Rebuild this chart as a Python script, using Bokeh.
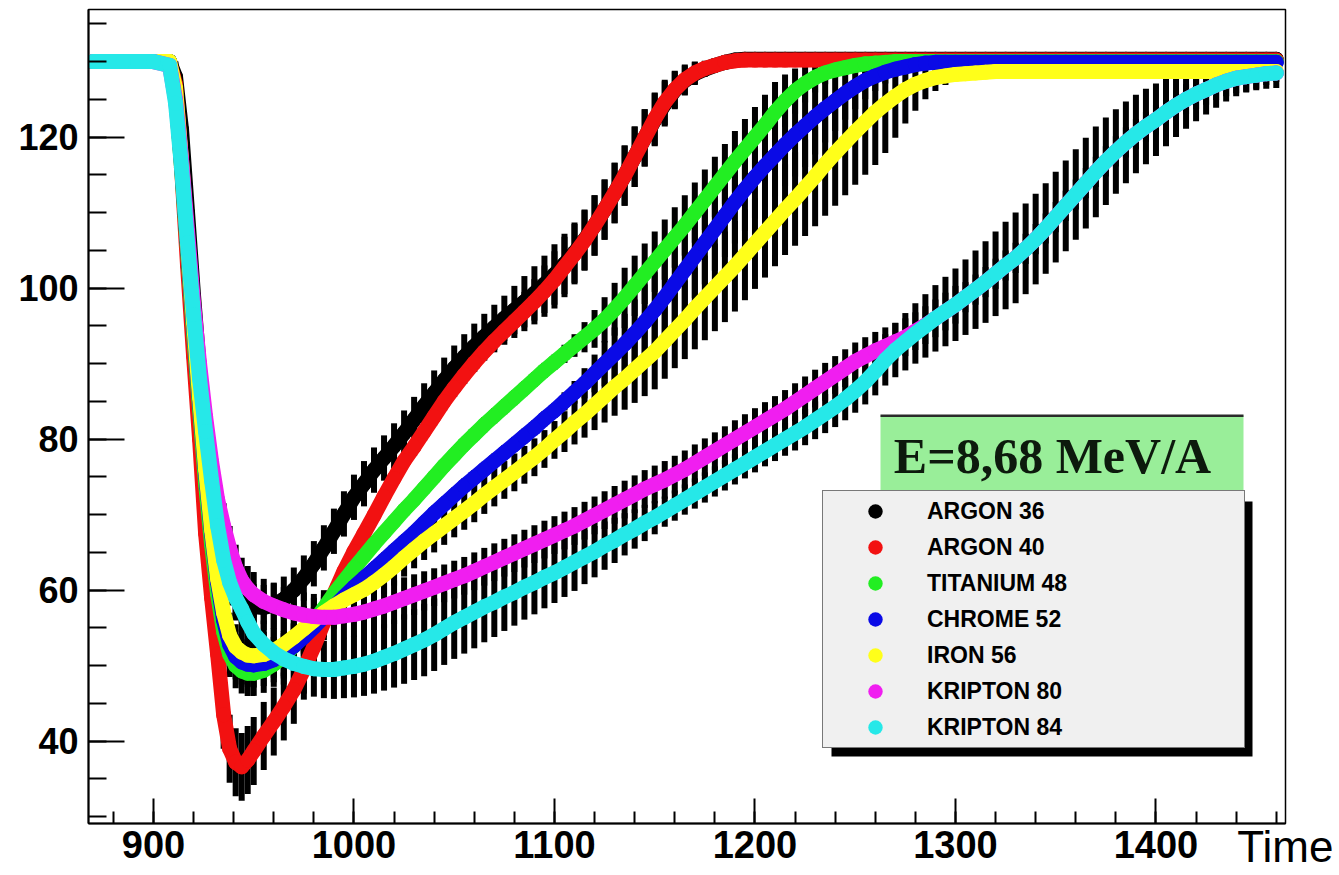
import numpy as np
from bokeh.plotting import figure
from bokeh.models import (ColumnDataSource, Range1d, FixedTicker, BoxAnnotation,
                          Label, Legend, LegendItem, LinearAxis, CustomJSTickFormatter)
from bokeh.embed import file_html
from bokeh.resources import INLINE

# ---------------- data ----------------
time = [870, 885, 900, 908, 911, 914, 917, 920, 923, 926, 929, 932, 935, 938,
        941, 944, 947, 950] + list(range(955, 1461, 5))

argon36 = [130, 130, 130, 130, 128, 121, 110, 99, 89, 80, 73, 67.5, 63.5, 61, 59.6, 58.7, 58.1, 57.8,
           57.7, 58.0, 58.8, 60.0, 61.6, 63.5, 65.6, 67.8, 70.1, 72.3,
           74.1, 75.9, 77.5, 79.1, 80.8, 82.6, 84.4, 86.1, 87.8, 89.4,
           90.9, 92.3, 93.6, 94.8, 96.0, 97.1, 98.2, 99.3, 100.5, 101.8,
           103.2, 104.7, 106.4, 108.3, 110.4, 112.6, 114.9, 117.4, 119.9, 122.3,
           124.4, 126.2, 127.5, 128.4, 129.0, 129.5, 129.9, 130.2, 130.3, 130.3,
           130.3, 130.3, 130.3, 130.3, 130.3, 130.3, 130.3, 130.3, 130.3, 130.3,
           130.3, 130.3, 130.3, 130.3, 130.3, 130.3, 130.3, 130.3, 130.3, 130.3,
           130.3, 130.3, 130.3, 130.3, 130.3, 130.3, 130.3, 130.3, 130.3, 130.3,
           130.3, 130.3, 130.3, 130.3, 130.3, 130.3, 130.3, 130.3, 130.3, 130.3,
           130.3, 130.3, 130.3, 130.3, 130.3, 130.3, 130.3, 130.3, 130.3, 130.3,
           130.3, 130.3]

argon40 = [130, 130, 130, 130, 127, 116, 103, 91, 80, 67.5, 59, 51.5, 43.5, 39, 37.2, 36.6, 37.5, 38.7,
           40.7, 42.6, 44.6, 46.8, 49.5, 52.5, 55.8, 59.5, 62.5, 65.1,
           67.5, 69.9, 72.4, 74.8, 77.1, 79.0, 81.0, 83.0, 85.0, 86.8,
           88.5, 90.1, 91.6, 93.0, 94.3, 95.6, 96.9, 98.2, 99.6, 101.1,
           102.8, 104.5, 106.3, 108.3, 110.4, 112.6, 114.9, 117.4, 119.9, 122.4,
           124.6, 126.3, 127.6, 128.5, 129.1, 129.5, 129.9, 130.1, 130.2, 130.2,
           130.2, 130.2, 130.2, 130.2, 130.2, 130.2, 130.2, 130.2, 130.2, 130.2,
           130.2, 130.2, 130.2, 130.2, 130.2, 130.2, 130.2, 130.2, 130.2, 130.2,
           130.2, 130.2, 130.2, 130.2, 130.2, 130.2, 130.2, 130.2, 130.2, 130.2,
           130.2, 130.2, 130.2, 130.2, 130.2, 130.2, 130.2, 130.2, 130.2, 130.2,
           130.2, 130.2, 130.2, 130.2, 130.2, 130.2, 130.2, 130.2, 130.2, 130.2,
           130.2, 130.2]

titanium48 = [130, 130, 130, 130, 126, 116, 105, 94, 84, 74, 66, 59.5, 54.5, 51.5, 50, 49.3, 49.0, 49.0,
              49.4, 50.2, 51.3, 52.6, 54.1, 55.8, 57.6, 59.5, 61.2, 62.9,
              64.5, 66.1, 67.6, 69.1, 70.6, 72.0, 73.5, 75.0, 76.5, 77.9,
              79.3, 80.6, 81.9, 83.1, 84.3, 85.5, 86.7, 87.9, 89.1, 90.2,
              91.3, 92.4, 93.5, 94.6, 95.8, 97.2, 98.7, 100.3, 101.9, 103.5,
              105.1, 106.7, 108.3, 110.0, 111.7, 113.4, 115.1, 116.8, 118.4, 120.0,
              121.6, 123.3, 124.8, 126.1, 127.1, 127.9, 128.5, 128.9, 129.2, 129.5,
              129.7, 129.8, 129.9, 130, 130, 130, 130, 130, 130, 130,
              130, 130, 130, 130, 130, 130, 130, 130, 130, 130,
              130, 130, 130, 130, 130, 130, 130, 130, 130, 130,
              130, 130, 130, 130, 130, 130, 130, 130, 130, 130,
              130, 130]

chrome52 = [130, 130, 130, 130, 126, 116.5, 105.5, 95, 85, 75.5, 67.5, 61, 56, 52.8, 51.2, 50.5, 50.2, 50.1,
            50.3, 50.8, 51.6, 52.6, 53.8, 55.1, 56.5, 57.8, 59.1, 60.4,
            61.6, 62.8, 64.0, 65.2, 66.4, 67.6, 68.9, 70.2, 71.4, 72.6,
            73.8, 74.9, 76.0, 77.1, 78.2, 79.3, 80.4, 81.5, 82.7, 83.8,
            85.0, 86.2, 87.4, 88.7, 90.0, 91.3, 92.6, 94.0, 95.5, 97.1,
            98.8, 100.6, 102.4, 104.2, 106.0, 107.8, 109.6, 111.4, 113.1, 114.7,
            116.2, 117.6, 119.0, 120.3, 121.5, 122.7, 123.8, 124.8, 125.8, 126.7,
            127.5, 128.1, 128.6, 129.0, 129.3, 129.6, 129.8, 129.9, 129.9, 129.9,
            129.9, 129.9, 129.9, 129.9, 129.9, 129.9, 129.9, 129.9, 129.9, 129.9,
            129.9, 129.9, 129.9, 129.9, 129.9, 129.9, 129.9, 129.9, 129.9, 129.9,
            129.9, 129.9, 129.9, 129.9, 129.9, 129.9, 129.9, 129.9, 129.9, 129.9,
            129.9, 129.9]

iron56 = [130, 130, 130, 130, 126.5, 117, 106, 95.5, 85.5, 76, 68, 61.5, 57, 54, 52.5, 51.8, 51.4, 51.3,
          51.5, 52.0, 52.8, 53.8, 54.9, 56.0, 57.0, 57.9, 58.7, 59.4,
          60.1, 61.0, 62.0, 63.1, 64.3, 65.4, 66.5, 67.5, 68.5, 69.5,
          70.5, 71.5, 72.6, 73.6, 74.6, 75.6, 76.6, 77.6, 78.7, 79.9,
          81.0, 82.2, 83.3, 84.5, 85.7, 86.9, 88.0, 89.2, 90.4, 91.6,
          93.0, 94.4, 95.8, 97.3, 98.7, 100.1, 101.5, 102.9, 104.4, 105.9,
          107.4, 108.9, 110.4, 111.8, 113.3, 114.8, 116.4, 117.9, 119.3, 120.7,
          122.0, 123.3, 124.4, 125.4, 126.3, 127.0, 127.5, 127.9, 128.1, 128.3,
          128.4, 128.5, 128.6, 128.7, 128.7, 128.7, 128.7, 128.7, 128.7, 128.7,
          128.7, 128.7, 128.7, 128.7, 128.7, 128.7, 128.7, 128.7, 128.7, 128.7,
          128.7, 128.7, 128.7, 128.7, 128.7, 128.7, 128.7, 128.7, 128.7, 128.7,
          128.7, 128.7]

kripton80 = [130, 130, 130, 129.5, 125, 117, 107.5, 98, 90, 83, 77, 72, 68.5, 65.5, 63, 61.3, 60.2, 59.4,
             58.5, 57.9, 57.4, 57.0, 56.7, 56.5, 56.4, 56.4, 56.6, 56.8,
             57.1, 57.5, 57.9, 58.4, 58.9, 59.4, 59.9, 60.4, 60.9, 61.4,
             61.9, 62.5, 63.1, 63.7, 64.3, 64.9, 65.5, 66.1, 66.7, 67.3,
             67.9, 68.5, 69.2, 69.9, 70.6, 71.3, 72.0, 72.7, 73.4, 74.0,
             74.6, 75.3, 76.0, 76.8, 77.6, 78.4, 79.2, 80.0, 80.8, 81.6,
             82.4, 83.2, 84.0, 84.9, 85.8, 86.7, 87.6, 88.5, 89.4, 90.3,
             91.0, 91.7, 92.3, 92.9, 93.5, 94.3, 95.1, 96.0, 96.9, 97.8,
             98.8, 99.8, 100.8, 101.9, 103.0, 104.0, 105.2, 106.5, 107.9, 109.4,
             110.9, 112.4, 113.9, 115.4, 116.8, 118.1, 119.3, 120.4, 121.4, 122.3,
             123.3, 124.2, 125.0, 125.7, 126.3, 126.9, 127.4, 127.8, 128.0, 128.2,
             128.4, 128.5]

kripton84 = [130, 130, 130, 129.5, 124.5, 116, 106, 96.5, 88, 81, 74.5, 68.5, 64, 61, 59, 57.5, 55.8, 54.3,
             52.8, 51.7, 50.9, 50.3, 49.9, 49.6, 49.5, 49.5, 49.7, 49.9,
             50.2, 50.6, 51.1, 51.6, 52.2, 52.8, 53.4, 54.1, 54.9, 55.7,
             56.4, 57.1, 57.8, 58.4, 59.1, 59.7, 60.4, 61.0, 61.7, 62.3,
             63.0, 63.7, 64.4, 65.1, 65.9, 66.6, 67.4, 68.1, 68.9, 69.6,
             70.4, 71.2, 72.0, 72.8, 73.6, 74.4, 75.2, 76.0, 76.8, 77.6,
             78.4, 79.2, 80.0, 80.8, 81.6, 82.5, 83.4, 84.3, 85.3, 86.4,
             87.6, 89.0, 90.5, 91.8, 92.9, 94.0, 95.0, 96.0, 96.9, 97.8,
             98.8, 99.8, 100.8, 101.9, 103.0, 104.0, 105.2, 106.5, 107.9, 109.4,
             110.9, 112.4, 113.9, 115.4, 116.8, 118.1, 119.3, 120.4, 121.4, 122.3,
             123.3, 124.2, 125.0, 125.7, 126.3, 126.9, 127.4, 127.8, 128.0, 128.2,
             128.4, 128.5]

# half-lengths of the black vertical bars
err_argon36 = [0.5, 0.5, 0.5, 0.8, 2, 3, 3, 3, 3, 3, 3, 3, 3, 3, 3, 3, 3, 3,
               3, 3, 3, 3, 3, 3, 3, 3, 3, 3,
               3, 3, 3, 3, 3, 3, 3, 3, 3, 3,
               3, 3, 3, 3, 3, 3.2, 3.4, 3.6, 3.8, 4,
               4, 4, 4, 4, 4, 4, 4, 4, 3.8, 3.5,
               3, 2.5, 2, 1.5, 1, 0.8, 0.6, 0.5, 0.5, 0.5,
               0.5, 0.5, 0.5, 0.5, 0.5, 0.5, 0.5, 0.5, 0.5, 0.5,
               0.5, 0.5, 0.5, 0.5, 0.5, 0.5, 0.5, 0.5, 0.5, 0.5,
               0.5, 0.5, 0.5, 0.5, 0.5, 0.5, 0.5, 0.5, 0.5, 0.5,
               0.5, 0.5, 0.5, 0.5, 0.5, 0.5, 0.5, 0.5, 0.5, 0.5,
               0.5, 0.5, 0.5, 0.5, 0.5, 0.5, 0.5, 0.5, 0.5, 0.5,
               0.5, 0.5]

err_argon40 = [0.5, 0.5, 0.5, 0.8, 2, 3, 3, 3, 3, 3, 3.5, 4, 4.5, 4.5, 4.5, 4.5, 4.5, 4.5,
               4.5, 4.5, 4.5, 4.5, 4.0, 3.0, 2.0, 1.5, 1.2, 1.2,
               1.2, 1.2, 1.2, 1.2, 1.2, 1.2, 1.2, 1.2, 1.2, 1.2,
               1.2, 1.2, 1.2, 1.5, 1.8, 2.2, 2.6, 3.0, 3.4, 3.8,
               4, 4, 4, 4, 4, 4, 4, 4, 3.8, 3.5,
               3.0, 2.5, 2.0, 1.5, 1.0, 0.8, 0.6, 0.5, 0.5, 0.5,
               0.5, 0.5, 0.5, 0.5, 0.5, 0.5, 0.5, 0.5, 0.5, 0.5,
               0.5, 0.5, 0.5, 0.5, 0.5, 0.5, 0.5, 0.5, 0.5, 0.5,
               0.5, 0.5, 0.5, 0.5, 0.5, 0.5, 0.5, 0.5, 0.5, 0.5,
               0.5, 0.5, 0.5, 0.5, 0.5, 0.5, 0.5, 0.5, 0.5, 0.5,
               0.5, 0.5, 0.5, 0.5, 0.5, 0.5, 0.5, 0.5, 0.5, 0.5,
               0.5, 0.5]

err_titanium48 = [0.5, 0.5, 0.5, 0.8, 2, 3, 3, 3, 3, 3, 3, 3, 3, 3, 3, 3, 3, 3,
                  3, 3, 3, 3, 2.5, 2, 1.5, 1, 1, 1,
                  1, 1, 1, 1, 1, 1, 1, 1, 1, 1,
                  1, 1, 1, 1, 1, 1, 1, 1, 1, 1,
                  1.2, 1.5, 2, 2.5, 3, 3.5, 4, 4, 4, 4,
                  4, 4, 4, 4, 4, 4, 4, 4, 4, 4,
                  4, 4, 3.5, 3, 2.5, 2, 1.5, 1, 0.8, 0.6,
                  0.5, 0.5, 0.5, 0.5, 0.5, 0.5, 0.5, 0.5, 0.5, 0.5,
                  0.5, 0.5, 0.5, 0.5, 0.5, 0.5, 0.5, 0.5, 0.5, 0.5,
                  0.5, 0.5, 0.5, 0.5, 0.5, 0.5, 0.5, 0.5, 0.5, 0.5,
                  0.5, 0.5, 0.5, 0.5, 0.5, 0.5, 0.5, 0.5, 0.5, 0.5,
                  0.5, 0.5]

err_chrome52 = [0.5, 0.5, 0.5, 0.8, 2, 3, 3, 3, 3, 3, 3, 3, 3, 3, 3, 3, 3, 3,
                3, 3, 3, 3, 2.5, 2, 1.5, 1, 1, 1,
                1, 1, 1, 1, 1, 1, 1, 1, 1, 1,
                1, 1, 1, 1, 1, 1, 1, 1, 1, 1,
                1.2, 1.5, 2, 2.5, 3, 3.5, 4, 4.5, 5, 5,
                5.5, 5.5, 5.5, 5.5, 5.5, 5.5, 5.5, 5.5, 5.5, 5.5,
                5.5, 5.5, 5.5, 5.5, 5.5, 5, 4.5, 4, 3.5, 3,
                2.5, 2, 1.5, 1, 0.8, 0.6, 0.5, 0.5, 0.5, 0.5,
                0.5, 0.5, 0.5, 0.5, 0.5, 0.5, 0.5, 0.5, 0.5, 0.5,
                0.5, 0.5, 0.5, 0.5, 0.5, 0.5, 0.5, 0.5, 0.5, 0.5,
                0.5, 0.5, 0.5, 0.5, 0.5, 0.5, 0.5, 0.5, 0.5, 0.5,
                0.5, 0.5]

err_iron56 = [0.5, 0.5, 0.5, 0.8, 2, 3, 3, 3, 3, 3, 3, 3, 3, 3, 3, 3, 3, 3,
              3, 3, 3, 3, 3, 3, 3, 3, 2.8, 2.6,
              2.5, 2.5, 2.5, 2.5, 2.5, 2.5, 2.5, 2.5, 2.5, 2.5,
              2.5, 2.5, 2.5, 2.5, 2.5, 2.5, 2.5, 2.5, 2.5, 2.5,
              2.7, 2.9, 3.1, 3.3, 3.5, 3.8, 4.1, 4.4, 4.7, 5,
              5, 5, 5.2, 5.4, 5.6, 5.8, 6, 6, 6, 6,
              6, 6, 6, 6.2, 6.4, 6.6, 6.8, 7, 7, 7,
              7, 7, 6.5, 5.5, 4.5, 3.5, 2.5, 1.8, 1.2, 0.8,
              0.6, 0.6, 0.6, 0.6, 0.6, 0.6, 0.6, 0.6, 0.6, 0.6,
              0.6, 0.6, 0.6, 0.6, 0.6, 0.6, 0.6, 0.6, 0.6, 0.6,
              0.6, 0.6, 0.6, 0.6, 0.6, 0.6, 0.6, 0.6, 0.6, 0.6,
              0.6, 0.6]

err_kripton80 = [0.5, 0.5, 0.5, 0.8, 2, 3, 3, 3, 3, 3, 3, 3, 3, 3, 3, 3, 3, 3,
                 3, 3, 3, 3, 3, 3, 3, 3, 3, 3,
                 3, 3, 3, 2.9, 2.8, 2.7, 2.6, 2.5, 2.5, 2.5,
                 2.5, 2.5, 2.5, 2.5, 2.5, 2.5, 2.5, 2.5, 2.5, 2.5,
                 2.5, 2.5, 2.5, 2.5, 2.5, 2.5, 2.5, 2.5, 2.5, 2.5,
                 2.5, 2.5, 2.5, 2.5, 2.5, 2.5, 2.5, 2.5, 2.5, 2.5,
                 2.5, 2.5, 2.5, 2.5, 2.5, 2.5, 2.5, 2.5, 2.5, 2.5,
                 2.5, 2.5, 2.5, 2.5, 2.5, 2.5, 2.5, 2.5, 2.5, 2.5,
                 2.0, 2.0, 2.0, 2.0, 2.0, 2.0, 2.0, 2.0, 2.0, 2.0,
                 2.0, 2.0, 2.0, 2.0, 2.0, 2.0, 2.0, 2.0, 2.0, 2.0,
                 2.0, 2.0, 2.0, 2.0, 2.0, 2.0, 2.0, 2.0, 2.0, 2.0,
                 2.0, 2.0]

err_kripton84 = [0.5, 0.5, 0.5, 0.8, 2, 3, 3, 3, 3, 3, 3, 3, 3, 3, 3, 3, 3, 3,
                 3.2, 3.3, 3.4, 3.5, 3.6, 3.7, 3.8, 3.9, 4.0, 4.1,
                 4.2, 4.3, 4.4, 4.5, 4.6, 4.7, 4.8, 4.8, 4.8, 4.8,
                 4.8, 4.8, 4.7, 4.6, 4.5, 4.4, 4.3, 4.2, 4.1, 4.0,
                 3.9, 3.8, 3.6, 3.4, 3.2, 3.0, 2.8, 2.6, 2.4, 2.2,
                 2.0, 2.0, 2.0, 2.0, 2.0, 2.0, 2.0, 2.0, 2.0, 2.0,
                 2.0, 2.1, 2.2, 2.3, 2.4, 2.5, 2.6, 2.7, 2.8, 2.9,
                 3.0, 3.2, 3.4, 3.6, 3.8, 4.0, 4.2, 4.4, 4.6, 4.8,
                 5.0, 5.2, 5.4, 5.6, 5.8, 6.0, 6.0, 6.0, 6.0, 6.0,
                 6.0, 6.0, 6.0, 6.0, 5.8, 5.6, 5.4, 5.2, 5.0, 4.8,
                 4.5, 4.2, 3.9, 3.6, 3.3, 3.0, 2.7, 2.4, 2.1, 1.8,
                 1.5, 1.2]

names = ["ARGON 36", "ARGON 40", "TITANIUM 48", "CHROME 52", "IRON 56", "KRIPTON 80", "KRIPTON 84"]
values = [argon36, argon40, titanium48, chrome52, iron56, kripton80, kripton84]
errors = [err_argon36, err_argon40, err_titanium48, err_chrome52, err_iron56, err_kripton80, err_kripton84]
colors = ["#000000", "#f21111", "#22ee22", "#0a0ae6", "#ffff1a", "#f01ef0", "#26e8e8"]

x_major = [900, 1000, 1100, 1200, 1300, 1400]
x_minor = list(range(880, 1461, 20))
y_major = [40, 60, 80, 100, 120]
y_minor = list(range(30, 136, 5))

title_text = "E=8,68 MeV/A"
axis_title = "Time"

for v, e in zip(values, errors):
    assert len(v) == len(time) and len(e) == len(time)

# ---------------- figure ----------------
W, H = 1339, 875
ML, MR, MT, MB = 88, 54, 9, 52
X0, X1 = 867.6, 1464.6
Y0, Y1 = 29.1, 136.9

p = figure(width=W, height=H, x_range=Range1d(X0, X1), y_range=Range1d(Y0, Y1),
           output_backend="svg", toolbar_location=None,
           min_border_left=ML, min_border_right=MR, min_border_top=MT, min_border_bottom=MB)
p.grid.visible = False
p.background_fill_color = "white"
p.border_fill_color = "white"
p.outline_line_color = "black"
p.outline_line_width = 1.5

FW = W - ML - MR
FH = H - MT - MB


def dx(px):  # page px -> data x
    return X0 + (px - ML) * (X1 - X0) / FW


def dy(py):
    return Y1 - (py - MT) * (Y1 - Y0) / FH


for ax, maj, mnr, tin, tmin, fs in ((p.xaxis[0], x_major, x_minor, 25, 12, "38px"),
                                    (p.yaxis[0], y_major, y_minor, 36, 18, "36px")):
    ax.ticker = FixedTicker(ticks=maj, minor_ticks=mnr)
    ax.major_tick_in = tin
    ax.major_tick_out = 0
    ax.minor_tick_in = tmin
    ax.minor_tick_out = 0
    ax.axis_line_width = 2
    ax.axis_line_color = "black"
    ax.major_tick_line_width = 2
    ax.minor_tick_line_width = 2
    ax.major_tick_line_color = "black"
    ax.minor_tick_line_color = "black"
    ax.major_label_text_font = "Liberation Sans"
    ax.major_label_text_font_style = "bold"
    ax.major_label_text_font_size = fs
    ax.major_label_text_color = "black"
p.xaxis[0].major_label_standoff = 7
p.yaxis[0].major_label_standoff = 10

# "Time" written on a second, invisible bottom axis at the right end of the range
tax = LinearAxis(ticker=FixedTicker(ticks=[X1 - 0.1]),
                 formatter=CustomJSTickFormatter(code="return '%s'" % axis_title),
                 axis_line_color=None, major_tick_line_color=None, minor_tick_line_color=None,
                 major_tick_in=0, major_tick_out=0, minor_tick_in=0, minor_tick_out=0,
                 major_label_standoff=-39,
                 major_label_text_font="Liberation Sans", major_label_text_font_size="44px",
                 major_label_text_color="black")
p.add_layout(tax, "below")

# black vertical bars first
for v, e in zip(values, errors):
    va = np.array(v, dtype=float)
    ea = np.array(e, dtype=float)
    src = ColumnDataSource(dict(x=time, lo=va - ea, hi=va + ea))
    p.segment(x0="x", y0="lo", x1="x", y1="hi", source=src, line_color="black", line_width=6)

markers = []
for name, v, c in zip(names, values, colors):
    src = ColumnDataSource(dict(x=time, y=v))
    p.line("x", "y", source=src, line_color=c, line_width=15, line_join="round", line_cap="round")
    r = p.scatter("x", "y", source=src, size=15, fill_color=c, line_color=c, line_width=0)
    markers.append(r)

# title box
p.add_layout(BoxAnnotation(left=dx(880), right=dx(1243), top=dy(415), bottom=dy(493),
                           fill_color="#99ee99", fill_alpha=1, line_alpha=0))
p.add_layout(BoxAnnotation(left=dx(880), right=dx(1243), top=dy(414), bottom=dy(416.5),
                           fill_color="#2a2a2a", fill_alpha=1, line_alpha=0))
p.add_layout(Label(x=dx(1052), y=dy(455), text=title_text, text_align="center",
                   text_baseline="middle", text_font="Liberation Serif",
                   text_font_style="bold", text_font_size="50px", text_color="#0d1a0d"))

# legend shadow
p.add_layout(BoxAnnotation(left=dx(831), right=dx(1252), top=dy(501), bottom=dy(756),
                           fill_color="black", fill_alpha=1, line_alpha=0))

legend = Legend(items=[LegendItem(label=n, renderers=[r]) for n, r in zip(names, markers)],
                location=(822 - ML, (H - MB) - 748), orientation="vertical",
                background_fill_color="#f0f0f0", background_fill_alpha=1,
                border_line_color="black", border_line_width=1.5,
                label_text_font="Liberation Sans", label_text_font_style="bold",
                label_text_font_size="23px", label_text_color="black",
                glyph_height=36, glyph_width=100, label_height=36, label_width=315,
                label_standoff=2, padding=2, spacing=0, margin=0)
p.add_layout(legend, "center")

open("out.html", "w").write(file_html(p, INLINE))
